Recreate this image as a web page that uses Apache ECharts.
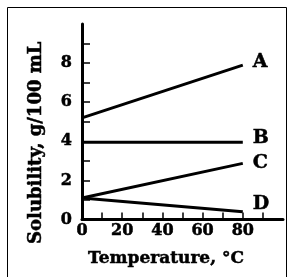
<!DOCTYPE html>
<html>
<head>
<meta charset="utf-8">
<script src="https://cdn.jsdelivr.net/npm/echarts@6/dist/echarts.min.js"></script>
<style>
html,body{margin:0;padding:0;background:#fff;}
#chart{width:291px;height:277px;}
</style>
</head>
<body>
<div id="chart"></div>
<script>
// temperatures at the two ends of each line
var temps = [0, 80];
// solubility, g/100 mL
var solA = [5.2, 7.9];
var solB = [3.95, 3.95];
var solC = [1.1, 2.87];
var solD = [1.1, 0.4];
var names = ['A', 'B', 'C', 'D'];
var xLabels = [0, 20, 40, 60, 80];
var xTicks = [10, 20, 30, 40, 50, 60, 70, 80, 90];
var yLabels = [0, 2, 4, 6, 8];
var yTicks = [1, 2, 3, 4, 5, 6, 7, 8, 9];

var font = 'DejaVu Serif';
var labelOffsets = [[2, -3], [2, -4], [2, 0], [2, -8]];

function pairs(ys){
    var out = [];
    for (var i = 0; i < temps.length; i++) {
        out.push([temps[i], ys[i]]);
    }
    return out;
}

// heavier print look
var ink = {color: '#000', fontFamily: font, fontWeight: 'bold', textBorderColor: '#000', textBorderWidth: 0.5};

var allSol = [solA, solB, solC, solD];
var series = [];
for (var i = 0; i < allSol.length; i++) {
    series.push({
        name: names[i],
        type: 'line',
        data: pairs(allSol[i]),
        symbol: 'none',
        silent: true,
        lineStyle: {color: '#000', width: 3},
        endLabel: Object.assign({
            show: true,
            formatter: '{a}',
            fontSize: 19,
            distance: 8,
            offset: labelOffsets[i]
        }, ink)
    });
}

var myChart = echarts.init(document.getElementById('chart'));
var option = {
    animation: false,
    backgroundColor: '#fff',
    grid: {left: 82, right: 8, top: 24, bottom: 57.5},
    graphic: [{
        type: 'polyline',
        shape: {points: [[7.5, 280], [7.5, 7.5], [286.5, 7.5], [286.5, 280]]},
        style: {stroke: '#000', lineWidth: 1, fill: null}
    }],
    xAxis: {
        type: 'value',
        min: 0,
        max: 100,
        name: 'Temperature, °C',
        nameLocation: 'middle',
        nameGap: 31,
        nameTextStyle: Object.assign({fontSize: 17, padding: [0, 33, 0, 0]}, ink),
        axisLine: {lineStyle: {color: '#000', width: 3}},
        axisTick: {show: true, inside: true, length: 7, customValues: xTicks,
            lineStyle: {color: '#000', width: 1.5}},
        axisLabel: Object.assign({customValues: xLabels, fontSize: 16, margin: 3}, ink),
        splitLine: {show: false}
    },
    yAxis: {
        type: 'value',
        min: 0,
        max: 10,
        name: 'Solubility, g/100 mL',
        nameLocation: 'middle',
        nameGap: 37,
        nameTextStyle: Object.assign({fontSize: 18, padding: [0, 42, 0, 0]}, ink),
        axisLine: {lineStyle: {color: '#000', width: 3}},
        axisTick: {show: true, inside: true, length: 8, customValues: yTicks,
            lineStyle: {color: '#000', width: 1.5}},
        axisLabel: Object.assign({customValues: yLabels, fontSize: 16, margin: 10}, ink),
        splitLine: {show: false}
    },
    series: series
};
myChart.setOption(option);
</script>
</body>
</html>
